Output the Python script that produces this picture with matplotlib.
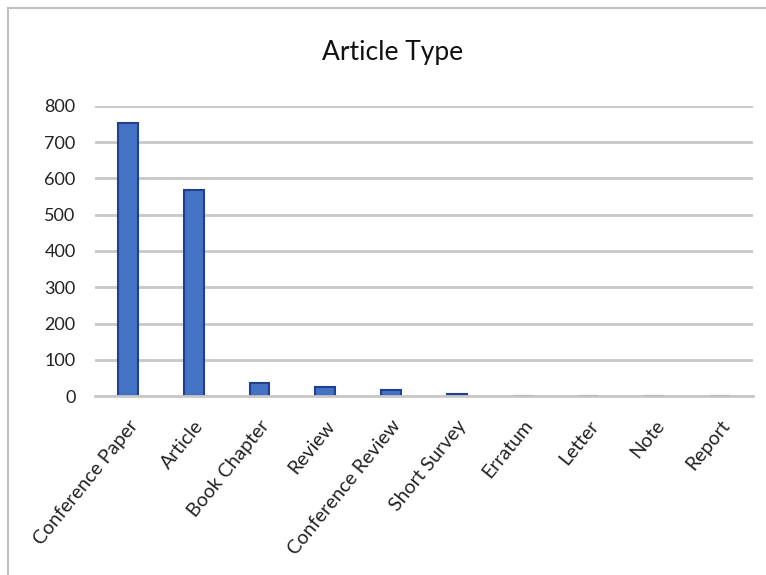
import matplotlib
matplotlib.use("Agg")
import matplotlib.pyplot as plt
from matplotlib.lines import Line2D

# Document counts by article type
categories = ["Conference Paper", "Article", "Book Chapter", "Review",
              "Conference Review", "Short Survey", "Erratum", "Letter",
              "Note", "Report"]
counts = [753, 568, 36, 25, 17, 5, 1, 1, 1, 1]
y_ticks = [0, 100, 200, 300, 400, 500, 600, 700, 800]

plt.rcParams["font.family"] = ["Lato", "DejaVu Sans"]

fig = plt.figure(figsize=(7.66, 5.75), dpi=100)
ax = fig.add_axes([0.124, 0.311, 0.859, 0.505])

x = range(len(categories))
ax.bar(x, counts, width=0.3, color="#4472C4", edgecolor="#1F3F8F",
       linewidth=1.5, zorder=3)

ax.set_ylim(0, 800)
ax.set_xlim(-0.5, len(categories) - 0.5)
ax.set_yticks(y_ticks)
ax.set_xticks(list(x))
ax.set_xticklabels(categories, rotation=51, ha="right", rotation_mode="anchor",
                   fontsize=14, color="#222222")
ax.tick_params(axis="y", labelsize=13, labelcolor="#222222", length=0, pad=14)
ax.tick_params(axis="x", length=0, pad=15)

ax.grid(axis="y", color="#c8c8c8", linewidth=2, zorder=0)
for side in ["top", "right", "left"]:
    ax.spines[side].set_visible(False)
ax.spines["bottom"].set_color("#c8c8c8")
ax.spines["bottom"].set_linewidth(2)
ax.spines["bottom"].set_zorder(4)

fig.text(0.513, 0.908, "Article Type", ha="center", va="center",
         fontsize=19, color="#111111")

# light frame along the top and left edges
top_y = 1 - 8 / 575
left_x = 8 / 766
fig.add_artist(Line2D([left_x, 1], [top_y, top_y], transform=fig.transFigure,
                      color="#c0c0c0", linewidth=1.5))
fig.add_artist(Line2D([left_x, left_x], [0, top_y], transform=fig.transFigure,
                      color="#c0c0c0", linewidth=1.5))

fig.savefig("out.png", dpi=100)
